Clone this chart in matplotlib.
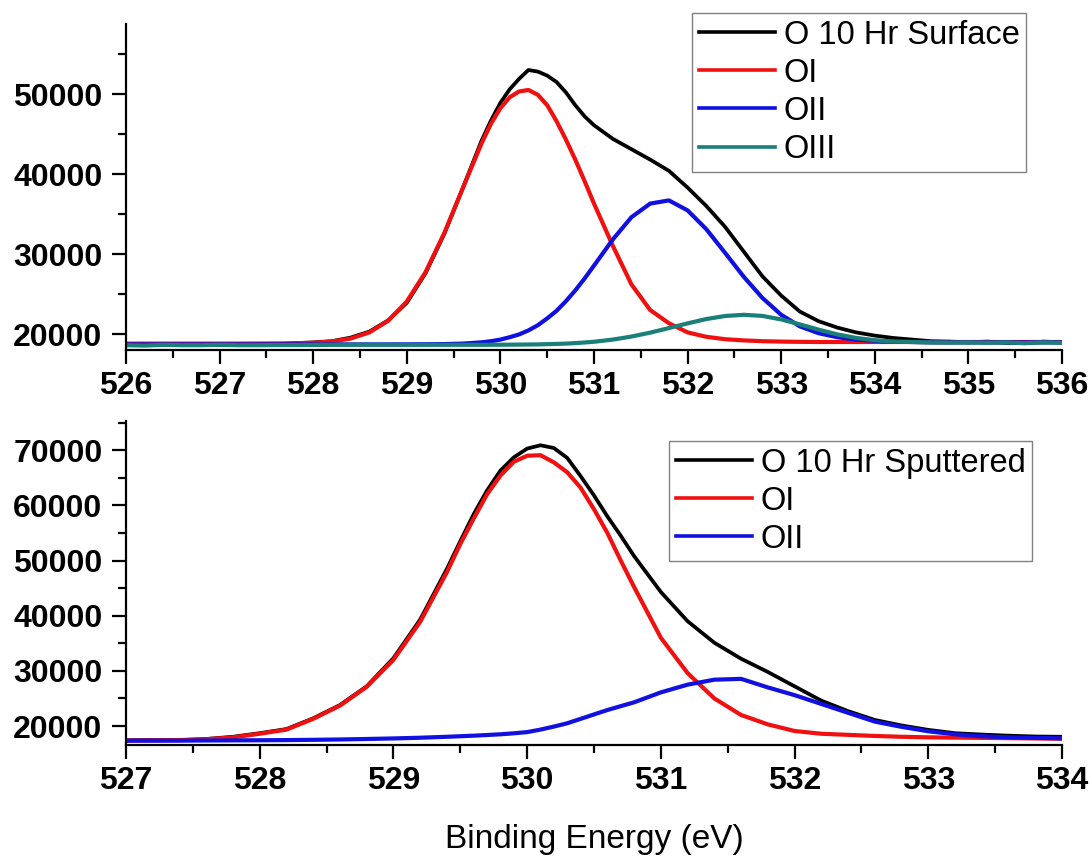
import matplotlib
matplotlib.use("Agg")
import matplotlib.pyplot as plt
from matplotlib.ticker import MultipleLocator

# ---------------- data: top panel (O 10 Hr Surface) ----------------
energy_top = [526.0, 526.2, 526.4, 526.6, 526.8, 527.0, 527.2, 527.4, 527.6, 527.8,
              528.0, 528.2, 528.4, 528.6, 528.8, 529.0, 529.2, 529.4, 529.6, 529.8,
              529.9, 530.0, 530.1, 530.2, 530.3, 530.4, 530.5, 530.6, 530.7, 530.8,
              530.9, 531.0, 531.2, 531.4, 531.6, 531.8,
              532.0, 532.2, 532.4, 532.6, 532.8, 533.0, 533.2, 533.4, 533.6, 533.8,
              534.0, 534.2, 534.4, 534.6, 534.8, 535.0, 535.2, 535.4, 535.6, 535.8,
              536.0]

surface_total = [18600, 18650, 18700, 18650, 18700, 18650, 18700, 18750, 18700, 18850,
                 18950, 19100, 19550, 20300, 21700, 23900, 27600, 32500, 38300, 44200,
                 46700, 48900, 50600, 51900, 53000, 52800, 52300, 51500, 50200, 48600,
                 47200, 46100, 44400, 43100, 41800, 40400,
                 38300, 36000, 33400, 30300, 27200, 24800, 22800, 21600, 20800, 20200,
                 19800, 19500, 19300, 19100, 19050, 18950, 19050, 18900, 18850, 19050,
                 18950]
surface_OI = [18800, 18800, 18800, 18800, 18800, 18800, 18800, 18810, 18820, 18840,
              18900, 19060, 19430, 20200, 21640, 24070, 27730, 32610, 38270, 43860,
              46300, 48230, 49600, 50320, 50500, 49900, 48600, 46600, 44300, 41800,
              39100, 36300, 31050, 26200, 23000, 21350,
              20200, 19650, 19350, 19200, 19100, 19050, 19020, 19000, 19000, 19000,
              19000, 19000, 19000, 19000, 19000, 19000, 19000, 19000, 19000, 19000,
              19000]
surface_OII = [18700, 18700, 18700, 18700, 18700, 18700, 18700, 18700, 18700, 18700,
               18700, 18700, 18700, 18700, 18700, 18705, 18715, 18740, 18800, 18960,
               19100, 19300, 19600, 19950, 20450, 21100, 21950, 22900, 24100, 25450,
               26950, 28550, 31800, 34600, 36300, 36700,
               35450, 33100, 30150, 27150, 24500, 22400, 20950, 20100, 19600, 19300,
               19150, 19050, 19000, 18950, 18950, 18950, 18950, 18950, 18950, 18950,
               18950]
surface_OIII = [18600, 18550, 18650, 18600, 18600, 18650, 18600, 18600, 18620, 18620,
                18630, 18650, 18650, 18650, 18650, 18650, 18650, 18650, 18650, 18650,
                18655, 18660, 18668, 18675, 18690, 18700, 18730, 18760, 18800, 18860,
                18940, 19030, 19300, 19680, 20170, 20740,
                21330, 21870, 22250, 22400, 22260, 21820, 21200, 20540, 19950, 19510,
                19220, 19050, 19000, 18950, 18920, 18950, 18900, 18950, 18850, 18950,
                18900]

# ---------------- data: bottom panel (O 10 Hr Sputtered) ----------------
energy_bot = [527.0, 527.2, 527.4, 527.6, 527.8, 528.0, 528.2, 528.4, 528.6, 528.8,
              529.0, 529.2, 529.4, 529.5, 529.6, 529.7, 529.8, 529.9, 530.0, 530.1,
              530.2, 530.3, 530.4, 530.5, 530.6, 530.7, 530.8,
              531.0, 531.2, 531.4, 531.6, 531.8, 532.0, 532.2, 532.4, 532.6, 532.8,
              533.0, 533.2, 533.4, 533.6, 533.8, 534.0]

sputtered_total = [17400, 17450, 17450, 17650, 18050, 18700, 19450, 21400, 23800, 27200,
                   32300, 39300, 48500, 53500, 58400, 62700, 66300, 68700, 70300, 70900,
                   70400, 68600, 65300, 61800, 58000, 54500, 50800,
                   44300, 39000, 35100, 32200, 29800, 27200, 24600, 22700, 21100, 20100,
                   19300, 18700, 18450, 18250, 18100, 18050]
sputtered_OI = [17350, 17400, 17450, 17600, 17950, 18600, 19350, 21300, 23700, 27100,
                32000, 38900, 47900, 53000, 57600, 62000, 65400, 67900, 69000, 69100,
                67800, 66000, 63200, 59300, 55000, 50000, 45200,
                36000, 29600, 25000, 22000, 20300, 19100, 18600, 18400, 18200, 18050,
                17950, 17900, 17850, 17800, 17750, 17700]
sputtered_OII = [17350, 17350, 17350, 17380, 17400, 17420, 17450, 17500, 17560, 17650,
                 17750, 17880, 18050, 18150, 18250, 18370, 18500, 18680, 18900, 19350,
                 19900, 20500, 21300, 22100, 22900, 23600, 24300,
                 26100, 27500, 28400, 28550, 27000, 25600, 24000, 22400, 20800, 19850,
                 19050, 18500, 18150, 17950, 17850, 17770]

top_labels = ["O 10 Hr Surface", "OI", "OII", "OIII"]
bot_labels = ["O 10 Hr Sputtered", "OI", "OII"]
colors = {"total": "#000000", "OI": "#f01010", "OII": "#1010e0", "OIII": "#1a7f78"}

# ---------------- figure ----------------
W, H = 1091, 857
fig = plt.figure(figsize=(W / 100, H / 100), dpi=100)

def px_axes(x0, y0, x1, y1):
    return fig.add_axes([x0 / W, 1 - y1 / H, (x1 - x0) / W, (y1 - y0) / H])

ax1 = px_axes(126, 24, 1062, 350)
ax2 = px_axes(126, 421, 1062, 745)

TICK_FS = 23
legfont = dict(family="Liberation Sans", size=23.5)

lw = 3.0
l1 = ax1.plot(energy_top, surface_total, color=colors["total"], lw=lw * 0.9)[0]
l2 = ax1.plot(energy_top, surface_OI, color=colors["OI"], lw=lw)[0]
l3 = ax1.plot(energy_top, surface_OII, color=colors["OII"], lw=lw)[0]
l4 = ax1.plot(energy_top, surface_OIII, color=colors["OIII"], lw=lw)[0]

m1 = ax2.plot(energy_bot, sputtered_total, color=colors["total"], lw=lw * 0.9)[0]
m2 = ax2.plot(energy_bot, sputtered_OI, color=colors["OI"], lw=lw)[0]
m3 = ax2.plot(energy_bot, sputtered_OII, color=colors["OII"], lw=lw)[0]

ax1.set_xlim(526, 536)
ax1.set_ylim(18000, 58750)
ax2.set_xlim(527, 534)
ax2.set_ylim(16560, 75300)
ax1.set_yticks([20000, 30000, 40000, 50000])
ax2.set_yticks([20000, 30000, 40000, 50000, 60000, 70000])

for ax in (ax1, ax2):
    ax.spines["top"].set_visible(False)
    ax.spines["right"].set_visible(False)
    ax.spines["left"].set_linewidth(1.6)
    ax.spines["bottom"].set_linewidth(1.6)
    ax.xaxis.set_major_locator(MultipleLocator(1))
    ax.xaxis.set_minor_locator(MultipleLocator(0.5))
    ax.yaxis.set_minor_locator(MultipleLocator(5000))
    ax.tick_params(which="major", direction="out", length=10, width=1.6)
    ax.tick_params(which="minor", direction="out", length=5.5, width=1.6)
    ax.tick_params(axis="y", which="major", pad=7)
    ax.tick_params(axis="x", which="major", pad=5)
    for lab in ax.get_xticklabels() + ax.get_yticklabels():
        lab.set_fontfamily("Liberation Sans")
        lab.set_fontweight("bold")
        lab.set_fontsize(TICK_FS)

ax2.set_xlabel("Binding Energy (eV)", fontfamily="Liberation Sans", fontsize=24, labelpad=20)

leg_kw = dict(frameon=True, fancybox=False, edgecolor="#808080", framealpha=1,
              handlelength=2.35, handletextpad=0.25, labelspacing=0.22,
              borderpad=0.2, borderaxespad=0, prop=legfont)
lg1 = fig.legend([l1, l2, l3, l4], top_labels, loc="upper right",
                 bbox_to_anchor=(1026 / W, 1 - 13 / H), **leg_kw)
lg2 = fig.legend([m1, m2, m3], bot_labels, loc="upper right",
                 bbox_to_anchor=(1032 / W, 1 - 441 / H), **leg_kw)
for lg in (lg1, lg2):
    lg.get_frame().set_linewidth(1.0)
    for h in lg.get_lines():
        h.set_linewidth(2.6)

fig.savefig("out.png", dpi=100)
